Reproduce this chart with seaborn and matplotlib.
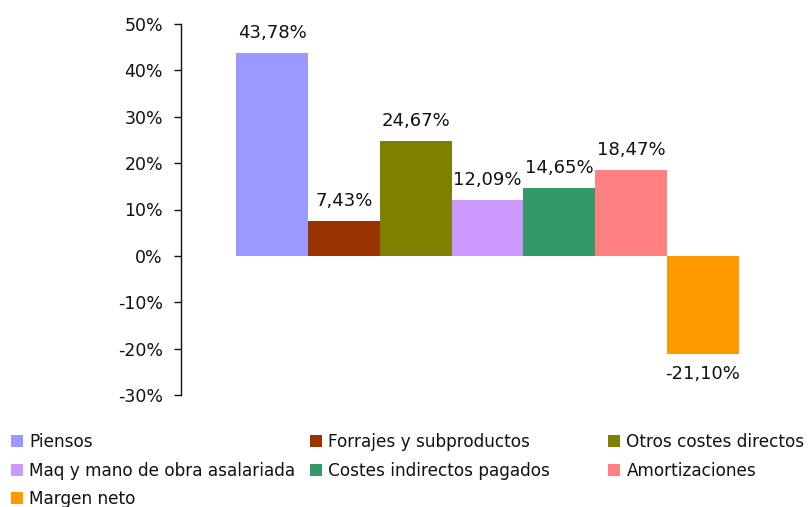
import matplotlib
matplotlib.use("Agg")
import matplotlib.pyplot as plt
import seaborn as sns
import pandas as pd
from matplotlib.ticker import FuncFormatter, MultipleLocator

# Cost structure (% of income)
series = [
    "Piensos",
    "Forrajes y subproductos",
    "Otros costes directos",
    "Maq y mano de obra asalariada",
    "Costes indirectos pagados",
    "Amortizaciones",
    "Margen neto",
]
values = [43.78, 7.43, 24.67, 12.09, 14.65, 18.47, -21.10]
colors = ["#9999FF", "#993300", "#808000", "#CC99FF", "#339966", "#FF8080", "#FF9900"]
y_ticks = [-30, -20, -10, 0, 10, 20, 30, 40, 50]

df = pd.DataFrame({"grupo": [""] * len(series), "serie": series, "valor": values})

sns.set_style("white")
plt.rcParams["font.family"] = ["DejaVu Sans"]

W, H = 812, 507
fig = plt.figure(figsize=(W / 100, H / 100), dpi=100)
ax = fig.add_axes([181 / W, (H - 395) / H, (794 - 181) / W, (395 - 24) / H])

sns.barplot(
    data=df, x="grupo", y="valor", hue="serie", hue_order=series,
    palette=colors, width=0.82, gap=0, saturation=1, errorbar=None,
    linewidth=0, ax=ax, legend=True,
)

handles = list(ax.legend_.legend_handles)
ax.legend_.remove()

# value labels, decimal comma
for cont, v in zip(ax.containers, values):
    ax.bar_label(cont, labels=[f"{v:.2f}%".replace(".", ",")], padding=8,
                 fontsize=13, color="#111111")

ax.set_ylim(min(y_ticks), max(y_ticks))
ax.set_xlim(-0.5, 0.5)
ax.yaxis.set_major_locator(MultipleLocator(10))
ax.yaxis.set_major_formatter(FuncFormatter(lambda v, p: f"{int(round(v))}%"))
ax.tick_params(axis="y", left=True, length=5, width=1, pad=8, labelsize=12.5,
               colors="#111111")
ax.set_xticks([])
ax.set_xlabel("")
ax.set_ylabel("")
for s in ("top", "right", "bottom"):
    ax.spines[s].set_visible(False)
ax.spines["left"].set_color("#111111")
ax.spines["left"].set_linewidth(1)

# legend in three columns, filled row by row
cols = [[0, 3, 6], [1, 4], [2, 5]]
xs = [11, 310, 608]
for idx, x0 in zip(cols, xs):
    fig.legend(
        [handles[i] for i in idx], [series[i] for i in idx],
        loc="upper left", bbox_to_anchor=(x0 / W, 1 - 433 / H),
        frameon=False, fontsize=12.2, handlelength=0.71, handleheight=0.71,
        handletextpad=0.38, labelspacing=0.62, borderpad=0, borderaxespad=0,
        labelcolor="#111111",
    )

fig.savefig("out.png", dpi=100, facecolor="white")
